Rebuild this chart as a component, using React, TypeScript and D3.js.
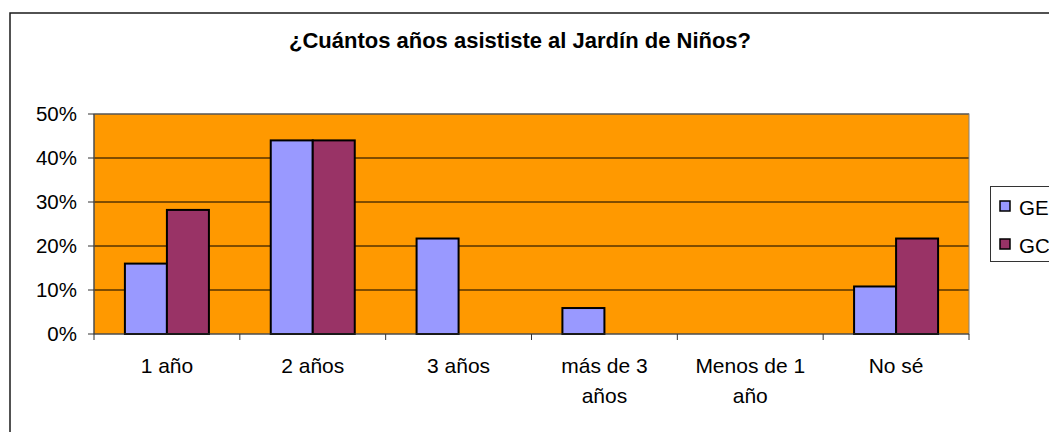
import React from "react";
import * as d3 from "d3";

const categories = ["1 año", "2 años", "3 años", "más de 3 años", "Menos de 1 año", "No sé"];
const categoryLines = [["1 año"], ["2 años"], ["3 años"], ["más de 3", "años"], ["Menos de 1", "año"], ["No sé"]];
const seriesNames = ["GE", "GC"];
const geValues = [16, 44, 21.7, 5.9, 0, 10.8];
const gcValues = [28.2, 44, 0, 0, 0, 21.7];
const yTicks = [0, 10, 20, 30, 40, 50];
const title = "¿Cuántos años asististe al Jardín de Niños?";

const colors: Record<string, string> = { GE: "#9999FF", GC: "#993366" };
const FONT = "'Liberation Sans', Arial, sans-serif";

export default function App() {
  const W = 1049, H = 432;
  const left = 94, right = 969, top = 114, bottom = 334;
  const x = d3.scaleBand<string>().domain(categories).range([left, right]).paddingInner(0).paddingOuter(0);
  const xi = d3.scaleBand<string>().domain(seriesNames).range([0, x.bandwidth()]).paddingInner(0).paddingOuter(0.736);
  const y = d3.scaleLinear().domain([0, 50]).range([bottom, top]);
  const data: Record<string, number[]> = { GE: geValues, GC: gcValues };
  const tickXs = categories.map((c) => x(c)!).concat([right]);

  return (
    <svg width={W} height={H} style={{ position: "absolute", left: 0, top: 0 }} fontFamily={FONT}>
      <rect x={0} y={0} width={W} height={H} fill="#fff" />
      <rect x={10} y={13} width={W + 20} height={H + 20} fill="#fff" stroke="#1a1a1a" strokeWidth={1.5} />
      <text x={520} y={48} textAnchor="middle" fontWeight="bold" fontSize={22} fill="#000">{title}</text>
      <rect x={left} y={top} width={right - left} height={bottom - top} fill="#FF9900" />
      {yTicks.filter((t) => t > 0).map((t) => (
        <line key={t} x1={left} x2={right} y1={y(t)} y2={y(t)} stroke="#000" strokeWidth={1} />
      ))}
      <rect x={left} y={top} width={right - left} height={bottom - top} fill="none" stroke="#808080" strokeWidth={1} />
      {seriesNames.map((s) =>
        categories.map((c, i) => {
          const v = data[s][i];
          if (v <= 0) return null;
          return (
            <rect key={s + c} x={x(c)! + xi(s)!} y={y(v)} width={xi.bandwidth()} height={y(0) - y(v)}
              fill={colors[s]} stroke="#000" strokeWidth={2} />
          );
        })
      )}
      <line x1={left} x2={left} y1={top} y2={bottom} stroke="#333" strokeWidth={1} />
      <line x1={left} x2={right} y1={bottom} y2={bottom} stroke="#333" strokeWidth={1} />
      {yTicks.map((t) => (
        <g key={t}>
          <line x1={left - 6} x2={left} y1={y(t)} y2={y(t)} stroke="#333" strokeWidth={1} />
          <text x={77} y={y(t) + 7} textAnchor="end" fontSize={20.5} fill="#000">{t}%</text>
        </g>
      ))}
      {tickXs.map((tx, i) => (
        <line key={i} x1={tx} x2={tx} y1={bottom} y2={bottom + 6} stroke="#333" strokeWidth={1} />
      ))}
      {categories.map((c, i) => (
        <text key={c} x={x(c)! + x.bandwidth() / 2} y={373} textAnchor="middle" fontSize={21} fill="#000">
          {categoryLines[i].map((ln, j) => (
            <tspan key={j} x={x(c)! + x.bandwidth() / 2} dy={j === 0 ? 0 : 29.5}>{ln}</tspan>
          ))}
        </text>
      ))}
      <rect x={990.5} y={186.5} width={80} height={75} fill="#fff" stroke="#333" strokeWidth={1} />
      {seriesNames.map((s, i) => (
        <g key={s}>
          <rect x={1000} y={201 + i * 38} width={10} height={10} fill={colors[s]} stroke="#000" strokeWidth={1.5} />
          <text x={1019} y={215 + i * 38} fontSize={20.5} fill="#000">{s}</text>
        </g>
      ))}
    </svg>
  );
}
